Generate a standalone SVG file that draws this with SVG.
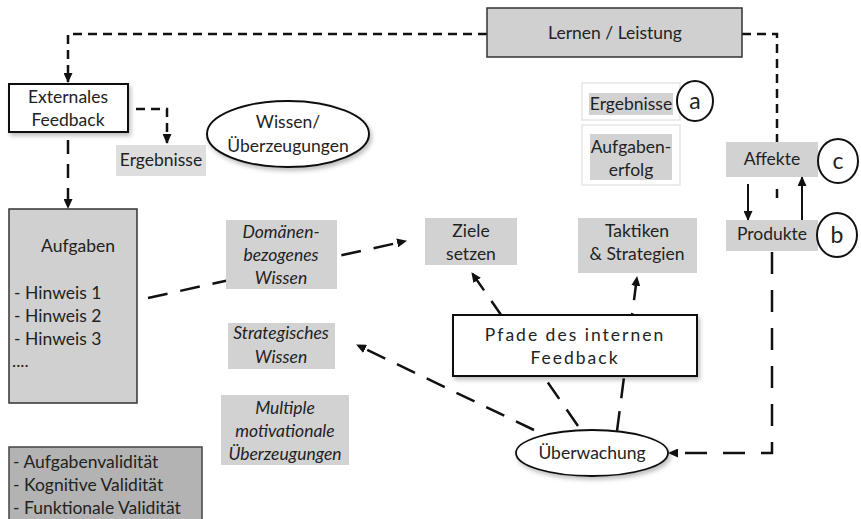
<svg xmlns="http://www.w3.org/2000/svg" width="861" height="519" viewBox="0 0 861 519">
  <defs>
    <marker id="arr" markerUnits="userSpaceOnUse" markerWidth="10" markerHeight="9" refX="9" refY="4.5" orient="auto">
      <path d="M0,0 L10,4.5 L0,9 z" fill="#111"/>
    </marker>
    <filter id="shadow" x="-10%" y="-10%" width="130%" height="140%">
      <feDropShadow dx="2" dy="3" stdDeviation="2" flood-color="#000" flood-opacity="0.25"/>
    </filter>
  </defs>
  <style>
    text { font-family: Lato, "Open Sans", "Liberation Sans", sans-serif; font-size: 17.5px; fill: #222; }
    .c { text-anchor: middle; }
    .it { font-style: italic; }
    .sp { letter-spacing: 2px; }
    .gray { fill: #d2d2d2; }
    .lite { fill: #dedede; }
    .dark { fill: #b3b3b3; stroke: #444; stroke-width: 1.5; }
    .box { fill: #d0d0d0; stroke: #333; stroke-width: 1.5; }
    .white { fill: #fff; stroke: #111; stroke-width: 2; }
    .frame { fill: #fff; stroke: #e6e6e6; stroke-width: 1.5; }
    .ring { fill: #fff; stroke: #111; stroke-width: 2; }
    .ln { fill: none; stroke: #111; stroke-width: 2.5; }
    .d1 { stroke-dasharray: 9 6; }
    .d2 { stroke-dasharray: 14 10; }
    .d3 { stroke-dasharray: 20 13; }
  </style>

  <!-- connectors -->
  <g id="connectors">
    <path class="ln d1" d="M487,34 H68 V82" marker-end="url(#arr)"/>
    <path class="ln d1" d="M742,34 H777 V142"/>
    <path class="ln" d="M777,189 V198"/>
    <path class="ln d1" d="M136,109 H167 V143" marker-end="url(#arr)"/>
    <path class="ln d2" d="M68,140 V208" marker-end="url(#arr)"/>
    <path class="ln d3" d="M148,298 L406,241" marker-end="url(#arr)"/>
    <path class="ln d3" d="M578,426 L472,273" marker-end="url(#arr)"/>
    <path class="ln d3" d="M617,431 L637,277" marker-end="url(#arr)"/>
    <path class="ln d3" d="M534,430 L357,345" marker-end="url(#arr)"/>
    <path class="ln" style="stroke-dasharray:22 16" d="M772,252 V453 H669" marker-end="url(#arr)"/>
    <path class="ln" style="stroke-width:2" d="M748,184 V220" marker-end="url(#arr)"/>
    <path class="ln" style="stroke-width:2" d="M802,220 V177" marker-end="url(#arr)"/>
  </g>

  <g id="lernen">
    <rect class="box" x="487" y="8" width="255" height="49"/>
    <text class="c" x="615" y="39">Lernen / Leistung</text>
  </g>

  <g id="externales-feedback">
    <rect class="white" x="9" y="84" width="119" height="48" filter="url(#shadow)"/>
    <text class="c" x="68" y="103">Externales</text>
    <text class="c" x="68" y="126">Feedback</text>
  </g>

  <g id="ergebnisse-links">
    <rect class="lite" x="116" y="145" width="90" height="31"/>
    <text class="c" x="161" y="166">Ergebnisse</text>
  </g>

  <g id="wissen">
    <ellipse class="white" cx="288" cy="134" rx="81" ry="33" filter="url(#shadow)"/>
    <text class="c" x="288" y="128">Wissen/</text>
    <text class="c" x="288" y="152">Überzeugungen</text>
  </g>

  <g id="aufgaben">
    <rect class="box" x="9" y="209" width="128" height="194"/>
    <text x="41" y="252">Aufgaben</text>
    <text x="14" y="299">- Hinweis 1</text>
    <text x="14" y="322">- Hinweis 2</text>
    <text x="14" y="345">- Hinweis 3</text>
    <text x="12" y="367">....</text>
  </g>

  <g id="validitaet">
    <rect class="dark" x="9" y="447" width="193" height="80"/>
    <text x="13" y="468">- Aufgabenvalidität</text>
    <text x="13" y="491">- Kognitive Validität</text>
    <text x="13" y="514">- Funktionale Validität</text>
  </g>

  <g id="domaenenwissen">
    <rect class="gray" x="226" y="220" width="111" height="69"/>
    <text class="c it" x="281" y="238">Domänen-</text>
    <text class="c it" x="281" y="261">bezogenes</text>
    <text class="c it" x="281" y="284">Wissen</text>
  </g>

  <g id="strategisches-wissen">
    <rect class="gray" x="228" y="323" width="107" height="46"/>
    <text class="c it" x="281" y="339">Strategisches</text>
    <text class="c it" x="281" y="363">Wissen</text>
  </g>

  <g id="motivationale-ueberzeugungen">
    <rect class="gray" x="221" y="395" width="128" height="70"/>
    <text class="c it" x="285" y="414">Multiple</text>
    <text class="c it" x="285" y="437">motivationale</text>
    <text class="c it" x="285" y="460">Überzeugungen</text>
  </g>

  <g id="ziele-setzen">
    <rect class="gray" x="425" y="218" width="92" height="47"/>
    <text class="c" x="471" y="237">Ziele</text>
    <text class="c" x="471" y="260">setzen</text>
  </g>

  <g id="taktiken">
    <rect class="gray" x="578" y="218" width="119" height="55"/>
    <text class="c" x="637" y="237">Taktiken</text>
    <text class="c" x="637" y="260">&amp; Strategien</text>
  </g>

  <g id="ergebnisse-a">
    <rect class="frame" x="582" y="83" width="98" height="37"/>
    <rect class="gray" x="589" y="93" width="84" height="22"/>
    <text class="c" x="631" y="110">Ergebnisse</text>
    <ellipse class="ring" cx="695" cy="101" rx="18" ry="20"/>
    <text class="c" x="695" y="109" style="font-size:23px">a</text>
  </g>

  <g id="aufgabenerfolg">
    <rect class="frame" x="582" y="125" width="98" height="60"/>
    <rect class="gray" x="590" y="134" width="82" height="46"/>
    <text class="c" x="631" y="153">Aufgaben-</text>
    <text class="c" x="631" y="176">erfolg</text>
  </g>

  <g id="affekte">
    <rect class="gray" x="726" y="142" width="92" height="35"/>
    <text class="c" x="772" y="165">Affekte</text>
    <ellipse class="ring" cx="838" cy="161" rx="20" ry="22"/>
    <text class="c" x="838" y="169" style="font-size:23px">c</text>
  </g>

  <g id="produkte">
    <rect class="gray" x="726" y="220" width="92" height="31"/>
    <text class="c" x="772" y="240">Produkte</text>
    <ellipse class="ring" cx="837" cy="235" rx="20" ry="22"/>
    <text class="c" x="837" y="243" style="font-size:23px">b</text>
  </g>

  <g id="pfade">
    <rect class="white" x="453" y="315" width="244" height="61" filter="url(#shadow)"/>
    <text class="c sp" x="575" y="341">Pfade des internen</text>
    <text class="c sp" x="575" y="364">Feedback</text>
  </g>

  <g id="ueberwachung">
    <ellipse class="white" cx="592" cy="453" rx="76" ry="23" style="stroke-width:1.8" filter="url(#shadow)"/>
    <text class="c" x="592" y="459">Überwachung</text>
  </g>
</svg>
